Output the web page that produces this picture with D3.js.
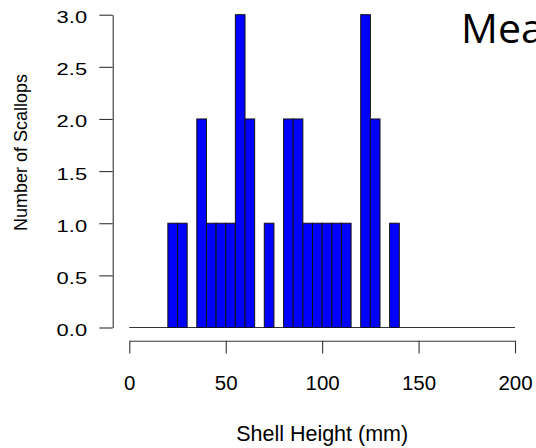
<!DOCTYPE html>
<html>
<head>
<meta charset="utf-8">
<script src="https://cdn.jsdelivr.net/npm/d3@7"></script>
<style>
  html, body { margin: 0; padding: 0; background: #fff; overflow: hidden; }
  svg { display: block; }
  .lbl { font-family: "Liberation Sans", Arial, Helvetica, sans-serif; fill: #000; }
</style>
</head>
<body>
<svg id="chart" width="536" height="448"></svg>
<script>
// Histogram of scallop shell heights, 5 mm bins
const binLower = [20,25,30,35,40,45,50,55,60,65,70,75,80,85,90,95,100,105,110,115,120,125,130,135];
const counts   = [ 1, 1, 0, 2, 1, 1, 1, 3, 2, 0, 1, 0, 2, 2, 1, 1,  1,  1,  1,  0,  3,  2,  0,  1];
const binWidth = 5;
const xTicks = [0, 50, 100, 150, 200];
const yTicks = [0, 0.5, 1, 1.5, 2, 2.5, 3];
const xTitle = "Shell Height (mm)";
const yTitle = "Number of Scallops";
const slideTitle = "Mean";

const svg = d3.select("#chart");
svg.append("rect").attr("width", 536).attr("height", 448).attr("fill", "#fff");

const x = d3.scaleLinear().domain([0, 200]).range([129.3, 515]);
const y = d3.scaleLinear().domain([0, 3]).range([327.5, 14.7]);

const bins = binLower.map((lo, i) => ({ lo, hi: lo + binWidth, n: counts[i] }));

// baseline of the histogram across the full x range
svg.append("line")
  .attr("x1", x(0)).attr("x2", x(200))
  .attr("y1", y(0)).attr("y2", y(0))
  .attr("stroke", "#333").attr("stroke-width", 1.1);

// bars
svg.append("g").selectAll("rect")
  .data(bins.filter(d => d.n > 0))
  .join("rect")
  .attr("x", d => x(d.lo))
  .attr("width", d => x(d.hi) - x(d.lo))
  .attr("y", d => y(d.n))
  .attr("height", d => y(0) - y(d.n))
  .attr("fill", "#0000ff")
  .attr("stroke", "#111")
  .attr("stroke-width", 1);

// y axis
const yAxis = svg.append("g")
  .attr("transform", "translate(112.7,0)")
  .call(d3.axisLeft(y).tickValues(yTicks).tickSize(13.4).tickSizeOuter(0)
    .tickFormat(d3.format(".1f")));
yAxis.select(".domain").attr("stroke", "#333").attr("stroke-width", 1.1);
yAxis.selectAll(".tick line").attr("stroke", "#333").attr("stroke-width", 1.1);
yAxis.selectAll(".tick text")
  .attr("class", "lbl")
  .attr("x", null).attr("dy", null)
  .attr("text-anchor", "end")
  .style("font-size", "16.5px")
  .attr("transform", "translate(-25.6,8) scale(1.33,1)");

// x axis
const xAxis = svg.append("g")
  .attr("transform", "translate(0,340.7)")
  .call(d3.axisBottom(x).tickValues(xTicks).tickSize(12.7).tickSizeOuter(0)
    .tickFormat(d3.format("d")));
xAxis.select(".domain").attr("stroke", "#333").attr("stroke-width", 1.1);
xAxis.selectAll(".tick line").attr("stroke", "#333").attr("stroke-width", 1.1);
xAxis.selectAll(".tick text")
  .attr("class", "lbl")
  .attr("y", 49.3).attr("dy", null)
  .style("font-size", "20.5px");

// axis titles
svg.append("text")
  .attr("class", "lbl")
  .attr("x", x(100)).attr("y", 440.7)
  .attr("text-anchor", "middle")
  .style("font-size", "21.5px")
  .text(xTitle);

svg.append("text")
  .attr("class", "lbl")
  .attr("transform", "translate(27,152.5) rotate(-90)")
  .attr("text-anchor", "middle")
  .style("font-size", "18px")
  .text(yTitle);

// slide heading, running off the right edge
svg.append("text")
  .attr("x", 461).attr("y", 42.7)
  .style("font-family", "'Open Sans', 'Noto Sans', sans-serif")
  .style("font-size", "41px")
  .attr("fill", "#000")
  .text(slideTitle);
</script>
</body>
</html>
